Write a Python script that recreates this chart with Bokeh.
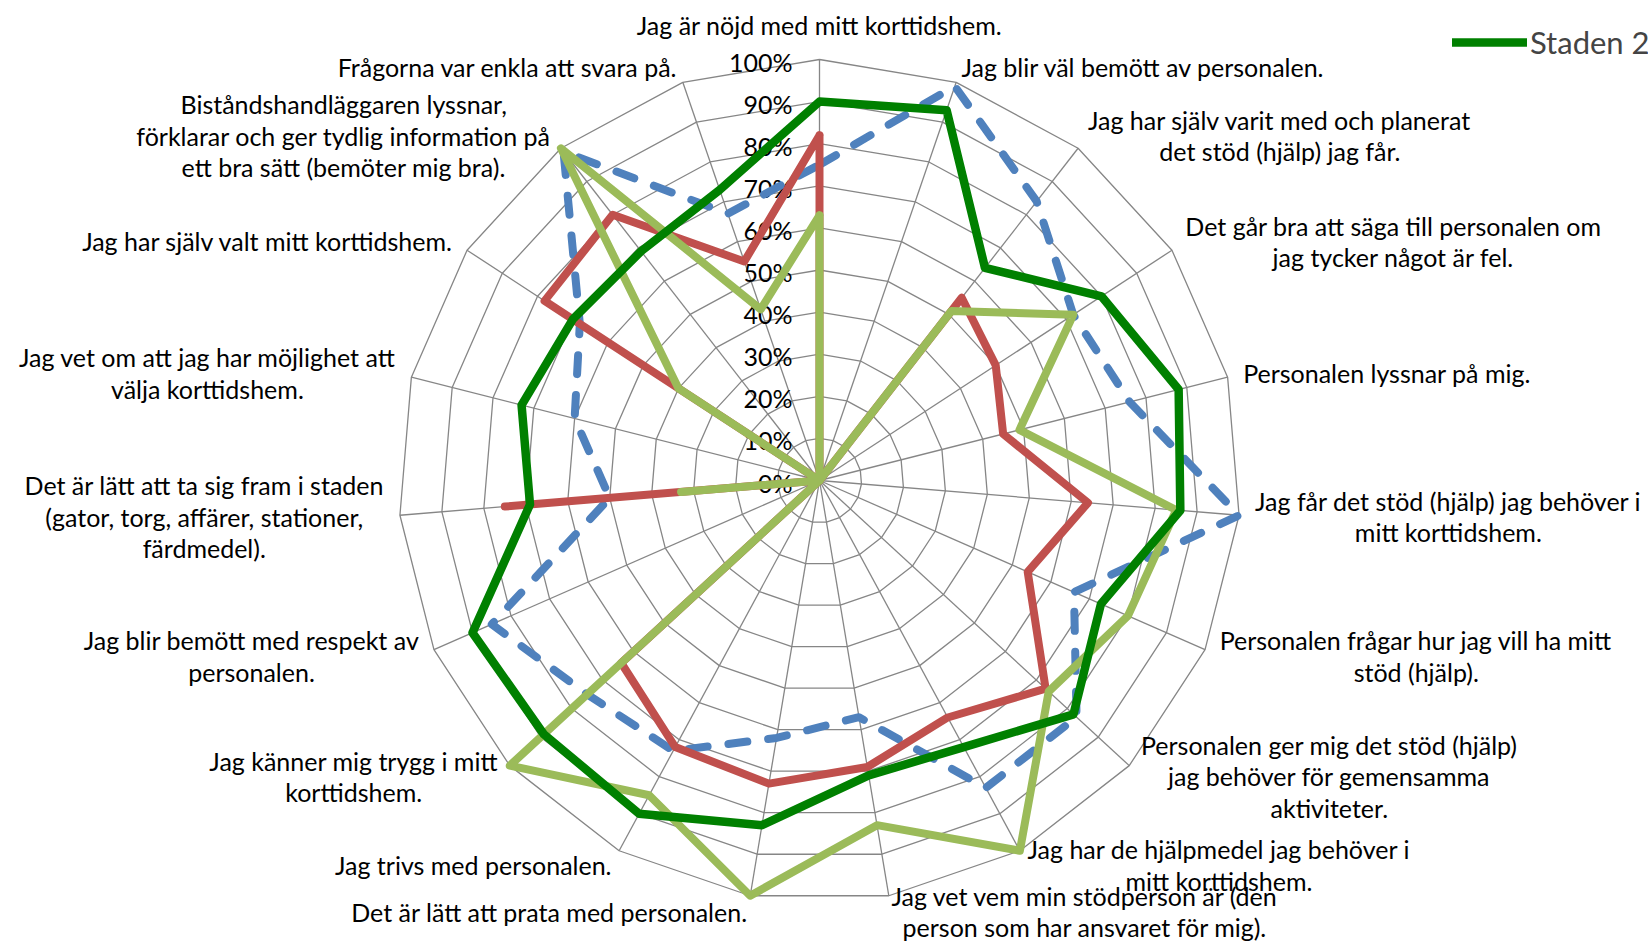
import math
from bokeh.plotting import figure
from bokeh.models import ColumnDataSource, Range1d, Legend, LegendItem
from bokeh.core.properties import value
from bokeh.embed import file_html
from bokeh.resources import INLINE

# ---------------- data ----------------
categories = [
    "Jag är nöjd med mitt korttidshem.",
    "Jag blir väl bemött av personalen.",
    "Jag har själv varit med och planerat\ndet stöd (hjälp) jag får.",
    "Det går bra att säga till personalen om\njag tycker något är fel.",
    "Personalen lyssnar på mig.",
    "Jag får det stöd (hjälp) jag behöver i\nmitt korttidshem.",
    "Personalen frågar hur jag vill ha mitt\nstöd (hjälp).",
    "Personalen ger mig det stöd (hjälp)\njag behöver för gemensamma\naktiviteter.",
    "Jag har de hjälpmedel jag behöver i\nmitt korttidshem.",
    "Jag vet vem min stödperson är (den\nperson som har ansvaret för mig).",
    "Det är lätt att prata med personalen.",
    "Jag trivs med personalen.",
    "Jag känner mig trygg i mitt\nkorttidshem.",
    "Jag blir bemött med respekt av\npersonalen.",
    "Det är lätt att ta sig fram i staden\n(gator, torg, affärer, stationer,\nfärdmedel).",
    "Jag vet om att jag har möjlighet att\nvälja korttidshem.",
    "Jag har själv valt mitt korttidshem.",
    "Biståndshandläggaren lyssnar,\nförklarar och ger tydlig information på\nett bra sätt (bemöter mig bra).",
    "Frågorna var enkla att svara på.",
]
tick_values = [0, 10, 20, 30, 40, 50, 60, 70, 80, 90, 100]
tick_labels = ["0%", "10%", "20%", "30%", "40%", "50%", "60%", "70%", "80%", "90%", "100%"]

legend_label = "Staden 2"
staden_2 = [90, 93, 64, 80, 88, 86, 73, 82, 72, 71, 83, 90, 89, 90, 69, 73, 70, 69, 73]
series_blue = [75, 99, 84, 72, 76, 100, 66, 83, 83, 57, 62, 73, 75, 85, 50, 60, 68, 99, 67]
series_red = [82, 0, 55, 50, 45, 64, 54, 73, 64, 69, 73, 72, 64, 0, 75, 0, 78, 80, 55]
series_lightgreen = [63, 0, 51, 72, 49, 85, 80, 74, 100, 83, 100, 85, 100, 0, 33, 0, 40, 100, 43]

# ---------------- layout ----------------
W, H = 1648, 941
CX, CY = 819, 480          # centre of the radar in canvas pixels (from left / top)
R = 421                    # radius of the 100% ring in pixels
FONT = "Lato"
FS = "25px"

n = len(categories)
angles = [2 * math.pi * k / n for k in range(n)]
sins = [math.sin(a) for a in angles]
coss = [math.cos(a) for a in angles]


def to_xy(vals):
    xs = [v / 100 * R * s for v, s in zip(vals, sins)]
    ys = [v / 100 * R * c for v, c in zip(vals, coss)]
    return xs + xs[:1], ys + ys[:1]


p = figure(width=W, height=H, output_backend="svg", toolbar_location=None,
           x_axis_type=None, y_axis_type=None,
           x_range=Range1d(-CX, W - CX), y_range=Range1d(-(H - CY), CY),
           min_border=0, outline_line_color=None, background_fill_color="white")

# grid rings and spokes
ring_xs, ring_ys = [], []
for t in tick_values[1:]:
    xs, ys = to_xy([t] * n)
    ring_xs.append(xs)
    ring_ys.append(ys)
p.multi_line(ring_xs, ring_ys, line_color="#868686", line_width=1.3)
p.segment(x0=[0] * n, y0=[0] * n, x1=[R * s for s in sins], y1=[R * c for c in coss],
          line_color="#868686", line_width=1.3)

# tick labels
p.text(x=[-27] * len(tick_values), y=[t / 100 * R - 2 for t in tick_values], text=tick_labels,
       text_align="right", text_baseline="middle", text_font=value(FONT),
       text_font_size=FS, text_color="black")

# category labels
pad = 16
lab_x, lab_y, anchors = [], [], []
for s, c in zip(sins, coss):
    if abs(s) < 1e-6:
        lab_x.append(0)
        lab_y.append(R + 35)
        anchors.append("center")
    else:
        lab_x.append((R + pad) * s)
        lab_y.append((R + pad) * c)
        anchors.append("center_left" if s > 0 else "center_right")
lab_src = ColumnDataSource(dict(x=lab_x, y=lab_y, text=categories, anchor=anchors))
p.text(x="x", y="y", text="text", anchor="anchor", source=lab_src,
       text_align="center", text_baseline="middle", text_font=value(FONT),
       text_font_size=FS, text_color="black", text_line_height=1.05)

# series
bx, by = to_xy(series_blue)
p.line(bx, by, line_color="#4F81BD", line_width=8, line_dash="19 21",
       line_cap="round", line_join="round")
rx, ry = to_xy(series_red)
p.line(rx, ry, line_color="#C0504D", line_width=8, line_join="round", line_cap="round")
lx, ly = to_xy(series_lightgreen)
p.line(lx, ly, line_color="#9BBB59", line_width=8, line_join="round", line_cap="round")
gx, gy = to_xy(staden_2)
g = p.line(gx, gy, line_color="#008000", line_width=8.5, line_join="round", line_cap="round")

legend = Legend(items=[LegendItem(label=legend_label, renderers=[g])],
                location=(1452, H - 64), padding=0, margin=0, spacing=0,
                glyph_width=75, glyph_height=44, label_height=44, label_standoff=3,
                label_text_font=FONT, label_text_font_size="31px",
                border_line_alpha=0, background_fill_alpha=0)
p.add_layout(legend)

open("out.html", "w").write(file_html(p, INLINE))
